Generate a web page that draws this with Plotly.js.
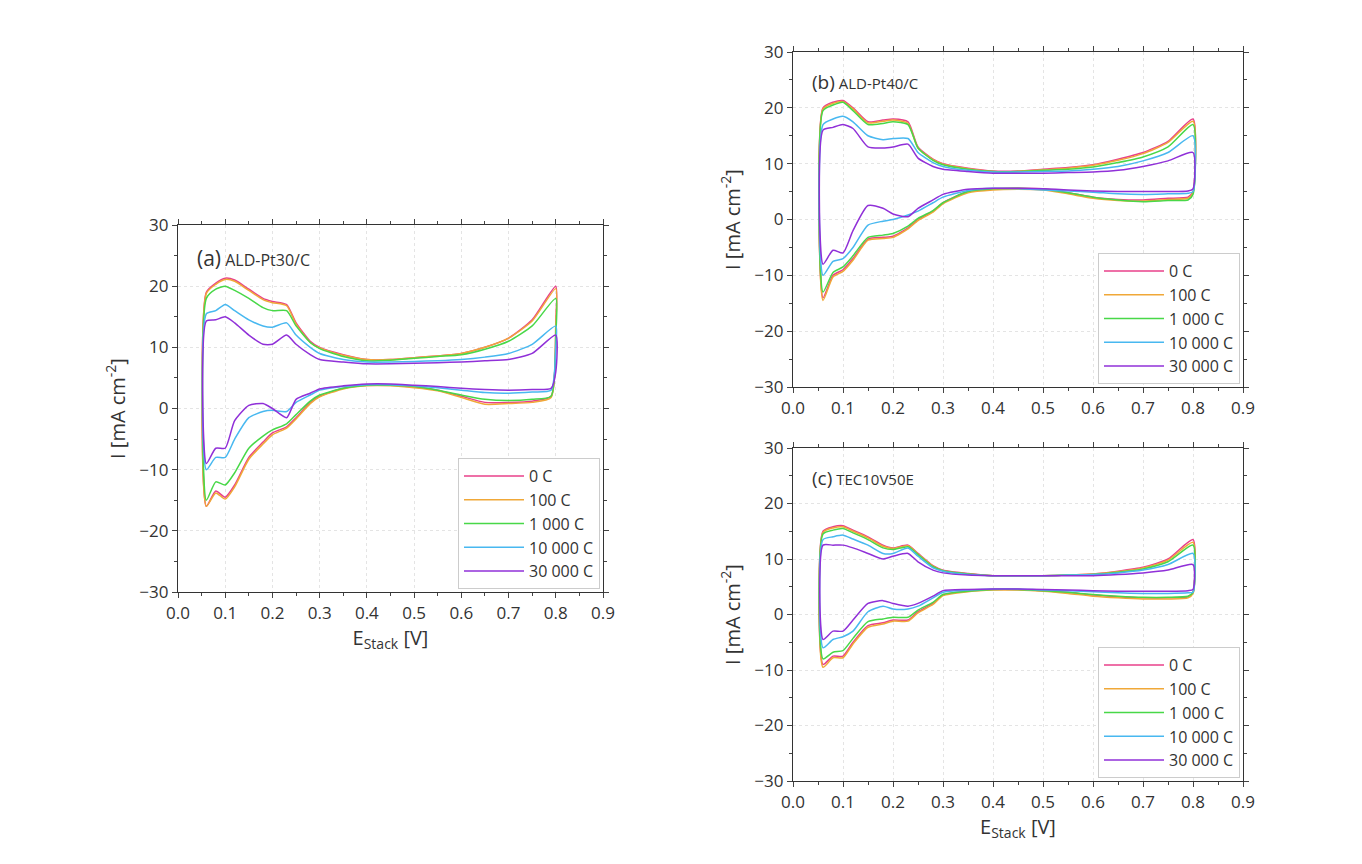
<!DOCTYPE html>
<html><head><meta charset="utf-8">
<script src="https://cdn.plot.ly/plotly-3.0.1.min.js"></script>
<style>body{margin:0;background:#fff}#p{width:1362px;height:864px}</style>
</head><body><div id="p"></div>
<script>
const seriesNames = ['0 C','100 C','1 000 C','10 000 C','30 000 C'];
const colors = ['#e8408a','#f0a838','#48d848','#48b8f0','#9030d8'];
// anodic (upper) sweep potentials and cathodic (lower) sweep potentials
const Eup = [0.06,0.08,0.1,0.12,0.15,0.18,0.2,0.23,0.25,0.28,0.3,0.35,0.4,0.45,0.5,0.55,0.6,0.65,0.7,0.75,0.8];
const Edn = [0.8,0.79,0.75,0.7,0.65,0.6,0.55,0.5,0.45,0.4,0.35,0.3,0.28,0.25,0.23,0.2,0.18,0.15,0.12,0.1,0.08,0.06];

// Panel (a) ALD-Pt30/C
const aUp = [
 [19,20.5,21.3,21,19.5,18,17.5,17,14,11,10,8.8,8,8,8.3,8.6,9,10,11.5,14.5,20],
 [18.8,20.3,21.1,20.8,19.3,17.8,17.3,16.8,13.8,10.8,9.9,8.7,8,8,8.3,8.6,9,10,11.5,14.3,19.6],
 [18,19.5,20,19.3,18,16.5,16,16,13.5,10.8,9.8,8.5,7.8,7.9,8.2,8.5,8.8,9.7,11,13.5,18],
 [15.5,16,17,16,14.5,13.5,13.3,14,12,10,9,8,7.6,7.6,7.7,7.8,8,8.4,9,10.5,13.5],
 [14.3,14.5,15,14,12,10.5,10.5,12,10.5,8.8,8,7.6,7.3,7.3,7.4,7.5,7.6,7.8,8,9,12]];
const aDn = [
 [14,2,1.2,1,1,2,3,3.5,3.8,3.8,3.3,2,1,-1.5,-3,-4,-5.5,-8,-12.5,-14.5,-13.5,-16],
 [13.6,1.8,1,0.8,0.7,1.8,2.9,3.4,3.7,3.7,3.2,1.9,0.8,-1.7,-3.2,-4.3,-5.8,-8.3,-12.8,-14.8,-13.8,-16],
 [12,2,1.5,1.3,1.5,2.2,3,3.6,3.8,3.8,3.3,2.2,1.2,-1,-2.5,-3.5,-4.5,-6.5,-10.5,-12.5,-12,-15],
 [10,3,2.7,2.5,2.6,3,3.4,3.7,3.9,3.9,3.6,3,2.2,1,-0.5,-0.3,-0.5,-1.5,-5,-8,-8,-10],
 [6,3.3,3.1,3,3.1,3.3,3.6,3.8,4,4,3.7,3.2,2.5,1.5,-1.5,0,0.8,0.5,-2,-6.5,-6.5,-9]];

// Panel (b) ALD-Pt40/C
const bUp = [
 [20,21,21.3,20,17.5,17.8,18,17.5,13,10.8,10,9.2,8.7,8.7,9,9.3,9.8,10.8,12,14,18],
 [19.8,20.8,21.1,19.8,17.3,17.6,17.8,17.2,12.8,10.7,9.9,9.1,8.6,8.6,8.9,9.2,9.7,10.6,11.8,13.8,17.6],
 [19.5,20.5,21,19.5,17,17.2,17.5,17,12.8,10.6,9.8,9,8.6,8.6,8.8,9,9.4,10.2,11.2,13,17],
 [17,18,18.5,17.5,15,14.3,14.5,14.5,12,10.2,9.5,8.8,8.5,8.5,8.6,8.7,9,9.5,10.5,12,15],
 [16,16.5,17,16.3,13,12.8,13,13.5,11,9.5,9,8.6,8.3,8.3,8.3,8.4,8.5,8.8,9.5,10.5,12]];
const bDn = [
 [5,4,3.8,3.5,3.6,4,4.8,5.5,5.6,5.5,5,3,1.5,0,-1.5,-3,-3.2,-3.5,-7,-9,-10,-14],
 [4.8,3.8,3.6,3.3,3.4,3.8,4.6,5.3,5.4,5.3,4.8,2.8,1.3,-0.2,-1.7,-3.2,-3.4,-3.7,-7.3,-9.3,-10.3,-14.5],
 [4.5,3.5,3.4,3.2,3.5,4,4.8,5.4,5.6,5.5,5,3,1.6,0.2,-1.2,-2.5,-2.8,-3.2,-6.5,-8.5,-9.5,-13],
 [5,4.7,4.6,4.5,4.6,4.9,5.1,5.3,5.5,5.6,5.2,4,3,1.5,0.8,0,-0.3,-1,-5,-7,-7.5,-10],
 [5.5,5.1,5,5,5,5.1,5.3,5.5,5.6,5.6,5.4,4.5,3.5,2,0.5,1,2,2.5,-2,-6,-5.5,-8]];

// Panel (c) TEC10V50E
const cUp = [
 [15,15.8,16,15.2,14,12.5,12,12.5,11,8.8,8,7.4,7,7,7,7.1,7.3,7.8,8.5,10,13.5],
 [14.8,15.6,15.8,15,13.8,12.3,11.9,12.4,10.9,8.7,7.9,7.3,7,7,7,7.1,7.3,7.7,8.4,9.8,13],
 [14.5,15.2,15.5,14.7,13.5,12,11.7,12.2,10.8,8.6,7.9,7.3,7,7,7,7.1,7.2,7.6,8.2,9.5,12.5],
 [13.5,14,14.3,13.6,12.5,11,11,12,10.5,8.4,7.8,7.2,7,7,7,7.1,7.2,7.5,8,9,11],
 [12.5,12.5,12.5,12,11,10,10.5,11,9.5,8,7.5,7.1,7,7,7,7,7,7.2,7.5,8,9]];
const cDn = [
 [4,3.2,3,3,3.2,3.5,4,4.3,4.5,4.5,4.2,3.5,2,0.5,-1,-1,-1.5,-2,-5,-7.5,-7.5,-9],
 [3.8,3,2.8,2.8,3,3.3,3.8,4.2,4.4,4.4,4.1,3.4,1.8,0.3,-1.2,-1.2,-1.7,-2.3,-5.3,-7.8,-7.8,-9.5],
 [4,3.3,3.1,3.1,3.3,3.6,4,4.3,4.5,4.5,4.2,3.6,2.2,0.8,-0.5,-0.5,-0.8,-1.3,-4.3,-6.5,-6.8,-8],
 [4,3.9,3.8,3.8,3.9,4.1,4.3,4.4,4.6,4.6,4.4,4,3,1.5,1,1,1.5,0.5,-3,-4,-4.5,-6],
 [4.5,4.3,4.2,4.2,4.2,4.3,4.4,4.5,4.6,4.6,4.5,4.3,3.3,2,1.5,2,2.5,2,-1,-3,-3,-4.5]];

const panels = [
 {up:aUp, dn:aDn, xa:'x', ya:'y', lg:'legend'},
 {up:bUp, dn:bDn, xa:'x2', ya:'y2', lg:'legend2'},
 {up:cUp, dn:cDn, xa:'x3', ya:'y3', lg:'legend3'}];

const traces = [];
panels.forEach(p => {
  for (let s = 0; s < seriesNames.length; s++) {
    const x = Eup.concat(Edn), y = p.up[s].concat(p.dn[s]);
    x.push(Eup[0]); y.push(p.up[s][0]);
    traces.push({x, y, type:'scatter', mode:'lines', name:seriesNames[s], xaxis:p.xa, yaxis:p.ya,
      legend:p.lg, line:{color:colors[s], width:1.5, shape:'spline', smoothing:0.6}});
  }
});

const F = 'Open Sans, Liberation Sans, sans-serif';
function xax(dom, anchor){return {domain:dom, anchor, range:[0,0.9], dtick:0.1, tickformat:'.1f',
  showline:true, mirror:'ticks', linecolor:'#333', linewidth:1.2, ticks:'outside', ticklen:5,
  showgrid:true, gridcolor:'#e4e4e4', griddash:'dot', zeroline:false, tickfont:{size:17,color:'#333'},
  minor:{ticks:'outside', ticklen:3, dtick:0.05}};}
function yax(dom, anchor){return {domain:dom, anchor, range:[-30,30], dtick:10,
  showline:true, mirror:'ticks', linecolor:'#333', linewidth:1.2, ticks:'outside', ticklen:5,
  showgrid:true, gridcolor:'#e4e4e4', griddash:'dot', zeroline:false, tickfont:{size:17,color:'#333'},
  minor:{ticks:'outside', ticklen:3, dtick:5},
  title:{text:'I [mA cm<sup>-2</sup>]', font:{size:20,color:'#333'}, standoff:8}};}
function leg(x,y){return {x, y, xanchor:'right', yanchor:'bottom', bgcolor:'#fff', bordercolor:'#ccc', borderwidth:1,
  font:{size:16,color:'#333'}, itemwidth:60, tracegroupgap:0};}

const xa = [178/1362, 603/1362], xb = [793/1362, 1243/1362];
const layout = {
  width:1362, height:864, margin:{l:0,r:0,t:0,b:0}, paper_bgcolor:'#fff', plot_bgcolor:'#fff',
  font:{family:F, color:'#333'},
  xaxis: Object.assign(xax(xa,'y'), {title:{text:'E<sub>Stack</sub> [V]', font:{size:20,color:'#333'}, standoff:6}}),
  yaxis: yax([1-592/864, 1-225/864],'x'),
  xaxis2: xax(xb,'y2'),
  yaxis2: yax([1-387/864, 1-52/864],'x2'),
  xaxis3: Object.assign(xax(xb,'y3'), {title:{text:'E<sub>Stack</sub> [V]', font:{size:20,color:'#333'}, standoff:6}}),
  yaxis3: yax([1-781/864, 1-448/864],'x3'),
  legend: leg(600/1362, 1-589/864),
  legend2: leg(1240/1362, 1-384/864),
  legend3: leg(1240/1362, 1-778/864),
  annotations: [
    {xref:'paper', yref:'paper', x:195/1362, y:1-258/864, xanchor:'left', yanchor:'middle', showarrow:false,
     text:'<span style="font-size:21px">(a)</span> ALD-Pt30/C', font:{size:16,color:'#333'}},
    {xref:'paper', yref:'paper', x:810/1362, y:1-82/864, xanchor:'left', yanchor:'middle', showarrow:false,
     text:'<span style="font-size:19px">(b)</span> ALD-Pt40/C', font:{size:15,color:'#333'}},
    {xref:'paper', yref:'paper', x:810/1362, y:1-478/864, xanchor:'left', yanchor:'middle', showarrow:false,
     text:'<span style="font-size:19px">(c)</span> TEC10V50E', font:{size:15,color:'#333'}}
  ]
};
Plotly.newPlot('p', traces, layout, {staticPlot:true});
</script></body></html>
